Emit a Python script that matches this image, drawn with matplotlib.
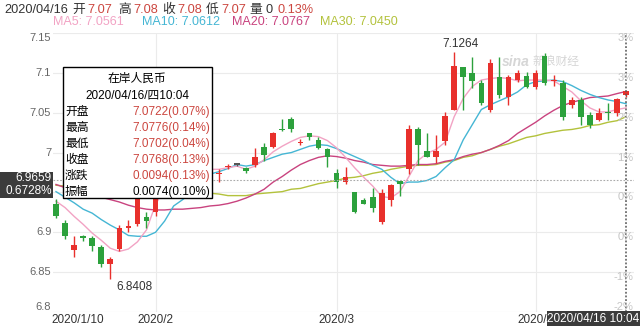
import numpy as np
import matplotlib.pyplot as plt
import matplotlib.transforms as mtransforms
from matplotlib.patches import Rectangle

plt.rcParams['font.family'] = ['Liberation Sans', 'Noto Sans CJK SC', 'DejaVu Sans']

W, H = 640, 326

# daily candles, 2020/01 .. 2020/04/16
opens = [6.936, 6.912, 6.8775, 6.895, 6.8925, 6.881, 6.860, 6.879, 6.905, 6.910,
         6.919, 6.925, 6.975, 6.985, 6.975, 6.980, 6.985, 6.978, 6.9725, 6.982,
         6.985, 6.981, 6.984, 7.0075, 7.0075, 7.0295, 7.0425, 7.0115, 7.024, 7.016,
         7.004, 6.975, 6.9625, 6.950, 6.940, 6.944, 6.9125, 6.941, 6.964, 6.979,
         7.029, 7.0025, 6.994, 7.014, 7.054, 7.1075, 7.100, 7.0875, 7.054, 7.095,
         7.070, 7.091, 7.096, 7.0825, 7.121, 7.090, 7.0875, 7.060, 7.066, 7.0475,
         7.041, 7.0505, 7.050, 7.0722]
highs = [6.942, 6.915, 6.895, 6.897, 6.895, 6.884, 6.869, 6.909, 6.916, 6.950,
         6.925, 6.980, 6.990, 6.990, 6.985, 6.990, 6.990, 6.982, 6.979, 6.986,
         6.987, 6.982, 7.006, 7.0125, 7.026, 7.0425, 7.044, 7.0175, 7.025, 7.020,
         7.006, 6.979, 6.9825, 6.951, 6.9425, 6.956, 6.954, 6.960, 6.964, 7.035,
         7.0325, 7.024, 7.0225, 7.051, 7.1264, 7.1075, 7.120, 7.091, 7.1175, 7.120,
         7.0975, 7.104, 7.101, 7.104, 7.125, 7.0975, 7.091, 7.070, 7.070, 7.051,
         7.056, 7.0625, 7.069, 7.0776]
lows = [6.918, 6.891, 6.869, 6.889, 6.876, 6.856, 6.8408, 6.876, 6.900, 6.908,
        6.905, 6.920, 6.970, 6.970, 6.970, 6.975, 6.975, 6.968, 6.963, 6.979,
        6.983, 6.975, 6.982, 6.989, 7.006, 7.0275, 7.026, 7.009, 7.016, 7.004,
        6.9825, 6.955, 6.961, 6.924, 6.935, 6.925, 6.910, 6.9325, 6.945, 6.9725,
        6.985, 6.994, 6.9875, 7.009, 7.054, 7.054, 7.081, 7.060, 7.051, 7.069,
        7.060, 7.089, 7.081, 7.080, 7.085, 7.084, 7.041, 7.056, 7.035, 7.031,
        7.039, 7.041, 7.046, 7.0702]
closes = [6.920, 6.895, 6.884, 6.8925, 6.8825, 6.860, 6.866, 6.906, 6.9075, 6.945,
          6.914, 6.975, 6.985, 6.975, 6.980, 6.985, 6.978, 6.972, 6.975, 6.983,
          6.985, 6.977, 6.995, 6.9975, 7.024, 7.028, 7.030, 7.0125, 7.020, 7.006,
          6.994, 6.9625, 6.969, 6.926, 6.936, 6.931, 6.949, 6.959, 6.960, 7.029,
          7.009, 6.994, 7.0025, 7.046, 7.109, 7.095, 7.090, 7.0625, 7.1125, 7.0725,
          7.095, 7.100, 7.0825, 7.100, 7.0875, 7.0905, 7.045, 7.066, 7.044, 7.035,
          7.050, 7.0495, 7.0674, 7.0768]

ma5 = [6.939, 6.931, 6.920, 6.910, 6.899, 6.890, 6.880, 6.876, 6.879, 6.888,
       6.903, 6.935, 6.954, 6.966, 6.974, 6.978, 6.979, 6.979, 6.979, 6.981,
       6.983, 6.979, 6.983, 6.991, 7.001, 7.008, 7.014, 7.019, 7.021, 7.020,
       7.015, 7.006, 6.994, 6.981, 6.969, 6.958, 6.945, 6.943, 6.951, 6.970,
       6.990, 6.999, 7.004, 7.013, 7.045, 7.068, 7.083, 7.091, 7.093, 7.094,
       7.093, 7.090, 7.091, 7.091, 7.091, 7.090, 7.083, 7.076, 7.065, 7.056,
       7.051, 7.051, 7.054, 7.0561]
ma10 = [6.951, 6.944, 6.937, 6.929, 6.924, 6.916, 6.909, 6.903, 6.896, 6.895,
        6.895, 6.900, 6.914, 6.933, 6.941, 6.951, 6.964, 6.973, 6.976, 6.980,
        6.985, 6.983, 6.985, 6.990, 6.994, 6.998, 7.000, 7.004, 7.008, 7.010,
        7.009, 7.005, 7.000, 6.995, 6.990, 6.984, 6.979, 6.969, 6.961, 6.963,
        6.963, 6.965, 6.970, 6.981, 6.991, 7.016, 7.035, 7.054, 7.060, 7.065,
        7.070, 7.076, 7.085, 7.089, 7.090, 7.091, 7.089, 7.084, 7.078, 7.073,
        7.069, 7.066, 7.064, 7.0612]
ma20 = [6.960, 6.956, 6.953, 6.949, 6.946, 6.944, 6.941, 6.938, 6.934, 6.931,
        6.929, 6.928, 6.928, 6.929, 6.929, 6.930, 6.931, 6.933, 6.934, 6.936,
        6.939, 6.943, 6.948, 6.954, 6.963, 6.970, 6.978, 6.985, 6.990, 6.994,
        6.996, 6.995, 6.993, 6.990, 6.988, 6.985, 6.984, 6.983, 6.983, 6.984,
        6.985, 6.985, 6.986, 6.989, 6.991, 6.995, 6.998, 7.000, 7.004, 7.009,
        7.015, 7.024, 7.031, 7.038, 7.046, 7.053, 7.059, 7.063, 7.066, 7.069,
        7.070, 7.071, 7.074, 7.0767]
ma30 = [6.959, 6.958, 6.956, 6.956, 6.955, 6.955, 6.954, 6.954, 6.953, 6.953,
        6.951, 6.951, 6.951, 6.950, 6.950, 6.950, 6.949, 6.949, 6.948, 6.946,
        6.946, 6.946, 6.948, 6.949, 6.950, 6.951, 6.954, 6.955, 6.958, 6.961,
        6.963, 6.965, 6.968, 6.969, 6.971, 6.974, 6.976, 6.979, 6.981, 6.983,
        6.984, 6.984, 6.985, 6.988, 6.990, 6.994, 6.996, 7.000, 7.004, 7.008,
        7.011, 7.015, 7.019, 7.021, 7.024, 7.026, 7.028, 7.029, 7.031, 7.034,
        7.035, 7.038, 7.040, 7.045]

tick_pos = [2.4, 11, 31, 53]
tick_labels = ['2020/1/10', '2020/2', '2020/3', '2020/4']
grid_pos = [11, 31, 53]
price_ticks = [7.15, 7.1, 7.05, 7.0, 6.95, 6.9, 6.85, 6.8]
# the 6.95 label sits under the crosshair price box
price_labels = ['7.15', '7.1', '7.05', '7', '', '6.9', '6.85', '6.8']

cross_price = 6.9659
cross_pct = 0.6728
date_str = '2020/04/16'
time_str = '10:04'
weekday = '四'
volume = 0

RED = '#e8302c'
GREEN = '#2ca13c'
VRED = '#cc463f'
DARK = '#333333'
ma_colors = ['#f2a3c4', '#45b6d4', '#c9437f', '#b3c23c']


def fx(px):
    return px / W


def fy(py):
    return 1 - py / H


fig = plt.figure(figsize=(6.4, 3.26), dpi=100)
ax = fig.add_axes([fx(53), fy(312), 581 / W, 279 / H])
ax.set_xlim(-0.33, 63.87)
ax.set_ylim(6.8, 7.15)
ax.set_xticks([])
ax.set_yticks([])
for s in ax.spines.values():
    s.set_visible(False)

for p in price_ticks:
    ax.axhline(p, color='#ebebeb', lw=0.8, zorder=0)
for g in grid_pos:
    ax.axvline(g, color='#ebebeb', lw=0.8, zorder=0)

x = np.arange(len(closes))
o = np.array(opens)
c = np.array(closes)
hi = np.array(highs)
lo = np.array(lows)
cols = np.where(c > o, RED, np.where(c < o, GREEN, '#555555'))

for ma, col in zip([ma30, ma20, ma10, ma5], ma_colors[::-1]):
    ax.plot(x, ma, color=col, lw=1.0, zorder=2)

ax.vlines(x, lo, hi, colors=cols, lw=1.0, zorder=3)
ax.bar(x, np.maximum(np.abs(c - o), 0.0013), bottom=np.minimum(o, c),
       width=0.62, color=cols, linewidth=0, zorder=4)

# crosshair
ax.axhline(cross_price, color='#aaaaaa', lw=0.8, ls=(0, (1.5, 1.5)), zorder=5)
ax.axvline(x[-1], color='#555555', lw=1.1, ls=(0, (1.2, 1.2)), zorder=5)

# max / min labels
imax = int(np.argmax(hi))
imin = int(np.argmin(lo))
ax.annotate(f'{hi[imax]:.4f}', xy=(imax, hi[imax]), xytext=(6, 2),
            textcoords='offset pixels', ha='center', va='bottom', fontsize=8.5, color=DARK)
ax.annotate(f'{lo[imin]:.4f}', xy=(imin, lo[imin]), xytext=(24, -2),
            textcoords='offset pixels', ha='center', va='top', fontsize=8.5, color=DARK)

# axis labels
ytr = mtransforms.blended_transform_factory(ax.transAxes, ax.transData)
xtr = mtransforms.blended_transform_factory(ax.transData, ax.transAxes)
base = cross_price / (1 + cross_pct / 100)
n = len(price_ticks)
for k, (p, lab) in enumerate(zip(price_ticks, price_labels)):
    va = 'top' if k == 0 else ('bottom' if k == n - 1 else 'center')
    if lab:
        ax.text(-0.003, p, lab, transform=ytr, ha='right', va=va, fontsize=8, color='#666666')
    pct = int(round((p / base - 1) * 100))
    ax.text(0.999, p, f'{pct}%', transform=ytr, ha='right',
            va='bottom' if k == n - 1 else 'top', fontsize=8, color='#c4c4c4', zorder=6)
for pos, lab in zip(tick_pos, tick_labels):
    ax.text(pos, -0.027, lab, transform=xtr, ha='center', va='center', fontsize=8.5, color=DARK)

# watermark
ax.text(fx(502), fy(62), 'sina', transform=fig.transFigure, fontsize=10, style='italic',
        weight='bold', color='#d6d6d6', va='center', zorder=1)
ax.text(fx(533), fy(62), '新浪财经', transform=fig.transFigure, fontsize=8.5,
        color='#d6d6d6', va='center', zorder=1)

# header line
prev = closes[-2]
chg_pct = (closes[-1] / prev - 1) * 100
head_texts = [date_str, '开', f'{opens[-1]:.2f}', '高', f'{highs[-1]:.2f}', '收',
              f'{closes[-1]:.2f}', '低', f'{lows[-1]:.2f}', '量', f'{volume}', f'{chg_pct:.2f}%']
head_x = [4, 72, 87, 118, 133, 162, 177, 206, 221, 249, 265, 277]
head_red = [False, False, True, False, True, False, True, False, True, False, False, True]
for t, px, r in zip(head_texts, head_x, head_red):
    fig.text(fx(px), fy(10), t, ha='left', va='center', fontsize=9.2, color=VRED if r else DARK)

ma_names = ['MA5', 'MA10', 'MA20', 'MA30']
ma_x = [53, 142, 232, 320]
for name, ma, col, px in zip(ma_names, [ma5, ma10, ma20, ma30], ma_colors, ma_x):
    fig.text(fx(px), fy(22), f'{name}: {ma[-1]:.4f}', ha='left', va='center',
             fontsize=9, color=col)

# tooltip
fig.add_artist(Rectangle((fx(63), fy(198)), 149 / W, 131 / H, transform=fig.transFigure,
                         facecolor='white', edgecolor='black', lw=1.0, zorder=10))
fig.text(fx(137), fy(79), '在岸人民币', ha='center', va='center', fontsize=8.5, color='black', zorder=11)
fig.text(fx(137), fy(95), f'{date_str}/{weekday}{time_str}', ha='center', va='center',
         fontsize=8.5, color='black', zorder=11)
rng = highs[-1] - lows[-1]
tip_labels = ['开盘', '最高', '最低', '收盘', '涨跌', '振幅']
tip_vals = [opens[-1], highs[-1], lows[-1], closes[-1], closes[-1] - prev, rng]
tip_pcts = [(opens[-1] / prev - 1) * 100, (highs[-1] / prev - 1) * 100,
            (lows[-1] / prev - 1) * 100, chg_pct, chg_pct, rng / prev * 100]
for k, (lab, v, pc) in enumerate(zip(tip_labels, tip_vals, tip_pcts)):
    yy = 112 + 15.9 * k
    fig.text(fx(65), fy(yy), lab, ha='left', va='center', fontsize=8.5, color='black', zorder=11)
    fig.text(fx(210), fy(yy), f'{v:.4f}({pc:.2f}%)', ha='right', va='center', fontsize=8.5,
             color='black' if k == 5 else VRED, zorder=11)

# crosshair value boxes
fig.add_artist(Rectangle((0, fy(198)), 53 / W, 26 / H, transform=fig.transFigure,
                         facecolor='#3b3b3b', edgecolor='none', zorder=10))
fig.text(fx(52), fy(178), f'{cross_price:.4f}', ha='right', va='center', fontsize=8.5,
         color='white', zorder=11)
fig.text(fx(52), fy(191), f'{cross_pct:.4f}%', ha='right', va='center', fontsize=8.5,
         color='white', zorder=11)
fig.add_artist(Rectangle((fx(547), 0), 93 / W, 15 / H, transform=fig.transFigure,
                         facecolor='#3b3b3b', edgecolor='none', zorder=10))
fig.text(fx(593), fy(318.5), f'{date_str} {time_str}', ha='center', va='center', fontsize=8.5,
         color='white', zorder=11)

fig.savefig('out.png', dpi=100, facecolor='white')
